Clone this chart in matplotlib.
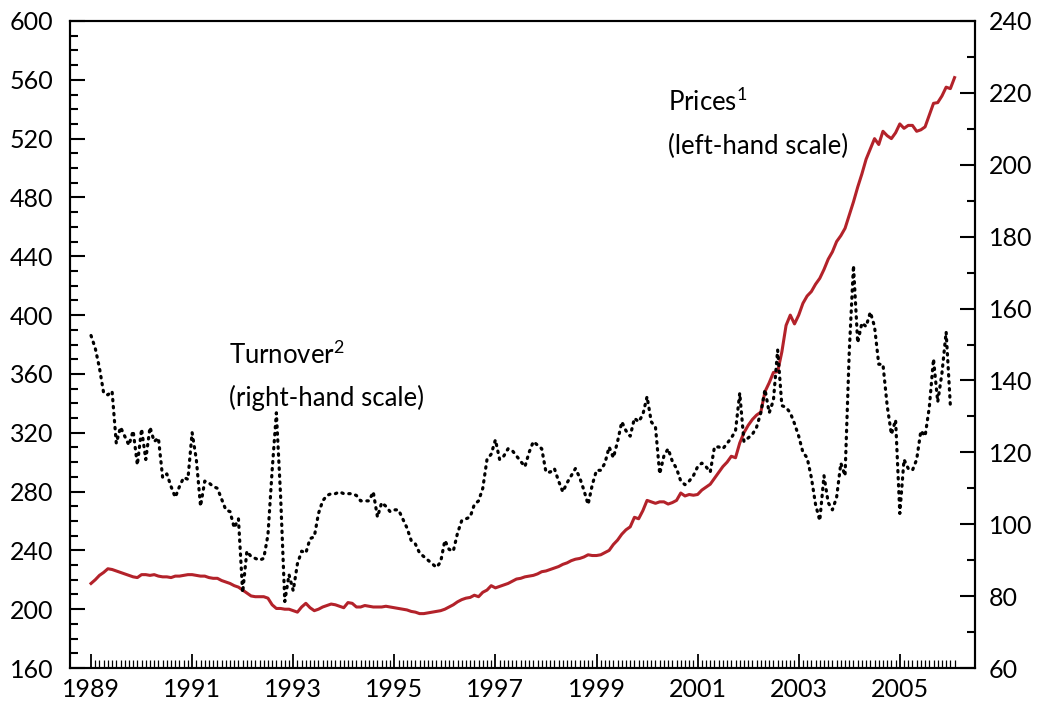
import numpy as np
import matplotlib
matplotlib.use("Agg")
import matplotlib.pyplot as plt
from matplotlib.ticker import MultipleLocator, FixedLocator

plt.rcParams['font.family'] = ['Lato', 'DejaVu Sans']
plt.rcParams['mathtext.fontset'] = 'custom'
plt.rcParams['mathtext.rm'] = 'Lato'
plt.rcParams['mathtext.it'] = 'Lato'

start_year = 1989

# House prices index (left-hand scale), monthly from January 1989
prices = [
    # 1989
    217.5, 220, 223, 225, 227.5, 227, 226, 225, 224, 223, 222, 221.5,
    # 1990
    223.5, 223.5, 223, 223.5, 222.5, 222, 222, 221.5, 222.5, 222.5, 223, 223.5,
    # 1991
    223.5, 223, 222.5, 222.5, 221.5, 221, 221, 219.5, 218.5, 217.5, 216, 215,
    # 1992
    213, 211, 209, 208.5, 208.5, 208.5, 207.5, 203, 200.5, 200.5, 200, 200,
    # 1993
    199, 198, 201.5, 204, 201, 199, 200, 201.5, 202.5, 203.5, 203, 202,
    # 1994
    201, 204.5, 204, 201.5, 201.5, 202.5, 202, 201.5, 201.5, 201.5, 202, 201.5,
    # 1995
    201, 200.5, 200, 199.5, 198.5, 198, 197, 197, 197.5, 198, 198.5, 199,
    # 1996
    200, 201.5, 203, 205, 206.5, 207.5, 208, 209.5, 208.5, 211.5, 213, 216,
    # 1997
    214.5, 215.5, 216.5, 217.5, 219, 220.5, 221, 222, 222.5, 223, 224, 225.5,
    # 1998
    226, 227, 228, 229, 230.5, 231.5, 233, 234, 234.5, 235.5, 237, 236.5,
    # 1999
    236.5, 237, 238.5, 240, 244, 247, 251, 254, 256, 262.5, 261.5, 267,
    # 2000
    274, 273, 272, 273, 273, 271.5, 272.5, 274, 279, 277, 278, 277.5,
    # 2001
    278, 281, 283, 285, 289, 293, 297, 300, 304, 303, 313, 320,
    # 2002
    325, 329, 332, 334, 348, 354, 361, 361.5, 375, 393, 400, 394,
    # 2003
    400, 408, 413, 416, 421, 425, 431, 438, 443, 450, 454, 459,
    # 2004
    468, 477, 487, 496, 506, 513, 520, 516, 525, 522, 520, 524,
    # 2005
    530, 527, 529, 529, 525, 526, 528, 536, 544, 544.5, 549, 555,
    # 2006
    554, 561.5,
]

# Turnover (right-hand scale), monthly from January 1989
turnover = [
    # 1989
    152.5, 149, 143.5, 136.5, 136, 137, 122.5, 127, 124.5, 122, 126, 116.5,
    # 1990
    126.5, 118, 127, 123, 124, 113, 114, 110.5, 107.5, 110.5, 113, 112.5,
    # 1991
    125.5, 118, 105, 112, 111.5, 110.5, 110, 107, 104, 103.5, 99, 101.5,
    # 1992
    81, 92.5, 91, 90.5, 90, 90.5, 97, 115, 131, 108, 78.5, 86,
    # 1993
    81.5, 89, 92.5, 92, 96, 96.5, 103, 106.5, 108, 108.5, 108.5, 109,
    # 1994
    108.5, 108.5, 108.5, 108, 106.5, 106.5, 106.5, 109, 102, 106, 105, 103.5,
    # 1995
    104, 104, 101.5, 99, 95.5, 94.5, 92, 91, 90, 89, 88, 89.5,
    # 1996
    95.5, 93, 92.5, 97.5, 101, 101.5, 102, 105.5, 106.5, 110, 118, 119.5,
    # 1997
    123.5, 118, 119, 121, 120.5, 119, 117.5, 116, 120, 123, 122, 121,
    # 1998
    114.5, 114.5, 115.5, 112, 109, 111.5, 113.5, 115.5, 113, 109.5, 105.5, 111,
    # 1999
    115, 115, 117, 121.5, 118.5, 123, 128.5, 126, 124.5, 129.5, 128.5, 130.5,
    # 2000
    135.5, 128.5, 127, 114, 119, 121, 117.5, 115.5, 112, 111, 112, 113.5,
    # 2001
    116, 117, 116, 114.5, 121.5, 121.5, 121, 122.5, 124, 126, 136.5, 123,
    # 2002
    124, 125, 127, 131, 137.5, 131, 134.5, 148.5, 133, 132.5, 131, 128,
    # 2003
    124.5, 120, 118.5, 113, 105.5, 101, 113.5, 106, 104, 107.5, 117, 113.5,
    # 2004
    148, 172, 150.5, 156, 155, 159, 155, 144.5, 144.5, 133, 125, 129,
    # 2005
    103, 118, 115.5, 115, 118, 126, 124.5, 132.5, 146, 134, 142, 153.5,
    # 2006
    133,
]

year_ticks = [1989, 1991, 1993, 1995, 1997, 1999, 2001, 2003, 2005]

x_prices = start_year + np.arange(len(prices)) / 12.0
x_turn = start_year + np.arange(len(turnover)) / 12.0

fig = plt.figure(figsize=(10.41, 7.09), dpi=100)
ax = fig.add_axes([0.0672, 0.0578, 0.8694, 0.9126])
ax2 = ax.twinx()

red = '#B3222A'
ax.plot(x_prices, prices, color=red, lw=2.2, solid_joinstyle='round', zorder=3)
ax2.plot(x_turn, turnover, color='black', lw=2.3,
         linestyle=(0, (0.45, 1.75)), dash_capstyle='round', zorder=2)

ax.set_xlim(start_year - 5 / 12.0, start_year + 209.85 / 12.0)
ax.set_ylim(160, 600)
ax2.set_ylim(60, 240)

# x axis: year labels with monthly minor ticks
ax.xaxis.set_major_locator(FixedLocator(year_ticks))
ax.xaxis.set_minor_locator(FixedLocator(start_year + np.arange(0, 206) / 12.0))
ax.set_xticklabels([str(y) for y in year_ticks])

ax.yaxis.set_major_locator(MultipleLocator(40))
ax.yaxis.set_minor_locator(MultipleLocator(10))
ax2.yaxis.set_major_locator(MultipleLocator(20))
ax2.yaxis.set_minor_locator(MultipleLocator(10))

for a in (ax, ax2):
    for s in a.spines.values():
        s.set_linewidth(1.5)

ax.tick_params(axis='x', which='major', direction='in', length=10, width=1.3,
               labelsize=18, pad=7, top=False)
ax.tick_params(axis='x', which='minor', direction='in', length=5.5, width=0.9,
               top=False)
ax.tick_params(axis='y', which='major', direction='in', length=11, width=1.5,
               labelsize=18, pad=12, right=False)
ax.tick_params(axis='y', which='minor', direction='in', length=5.5, width=1.5,
               right=False)
ax2.tick_params(axis='y', which='major', direction='in', length=11, width=1.5,
                labelsize=18, pad=10)
ax2.tick_params(axis='y', which='minor', direction='in', length=5.5, width=1.5)

# Series labels
label_kw = dict(transform=ax.transAxes, fontsize=18.5, ha='left', va='center')
ax.text(0.661, 0.875, 'Prices$^{\\mathregular{1}}$', **label_kw)
ax.text(0.661, 0.806, '(left-hand scale)', **label_kw)
ax.text(0.1757, 0.483, 'Turnover$^{\\mathregular{2}}$', **label_kw)
ax.text(0.1757, 0.418, '(right-hand scale)', **label_kw)

fig.savefig('out.png', dpi=100)
